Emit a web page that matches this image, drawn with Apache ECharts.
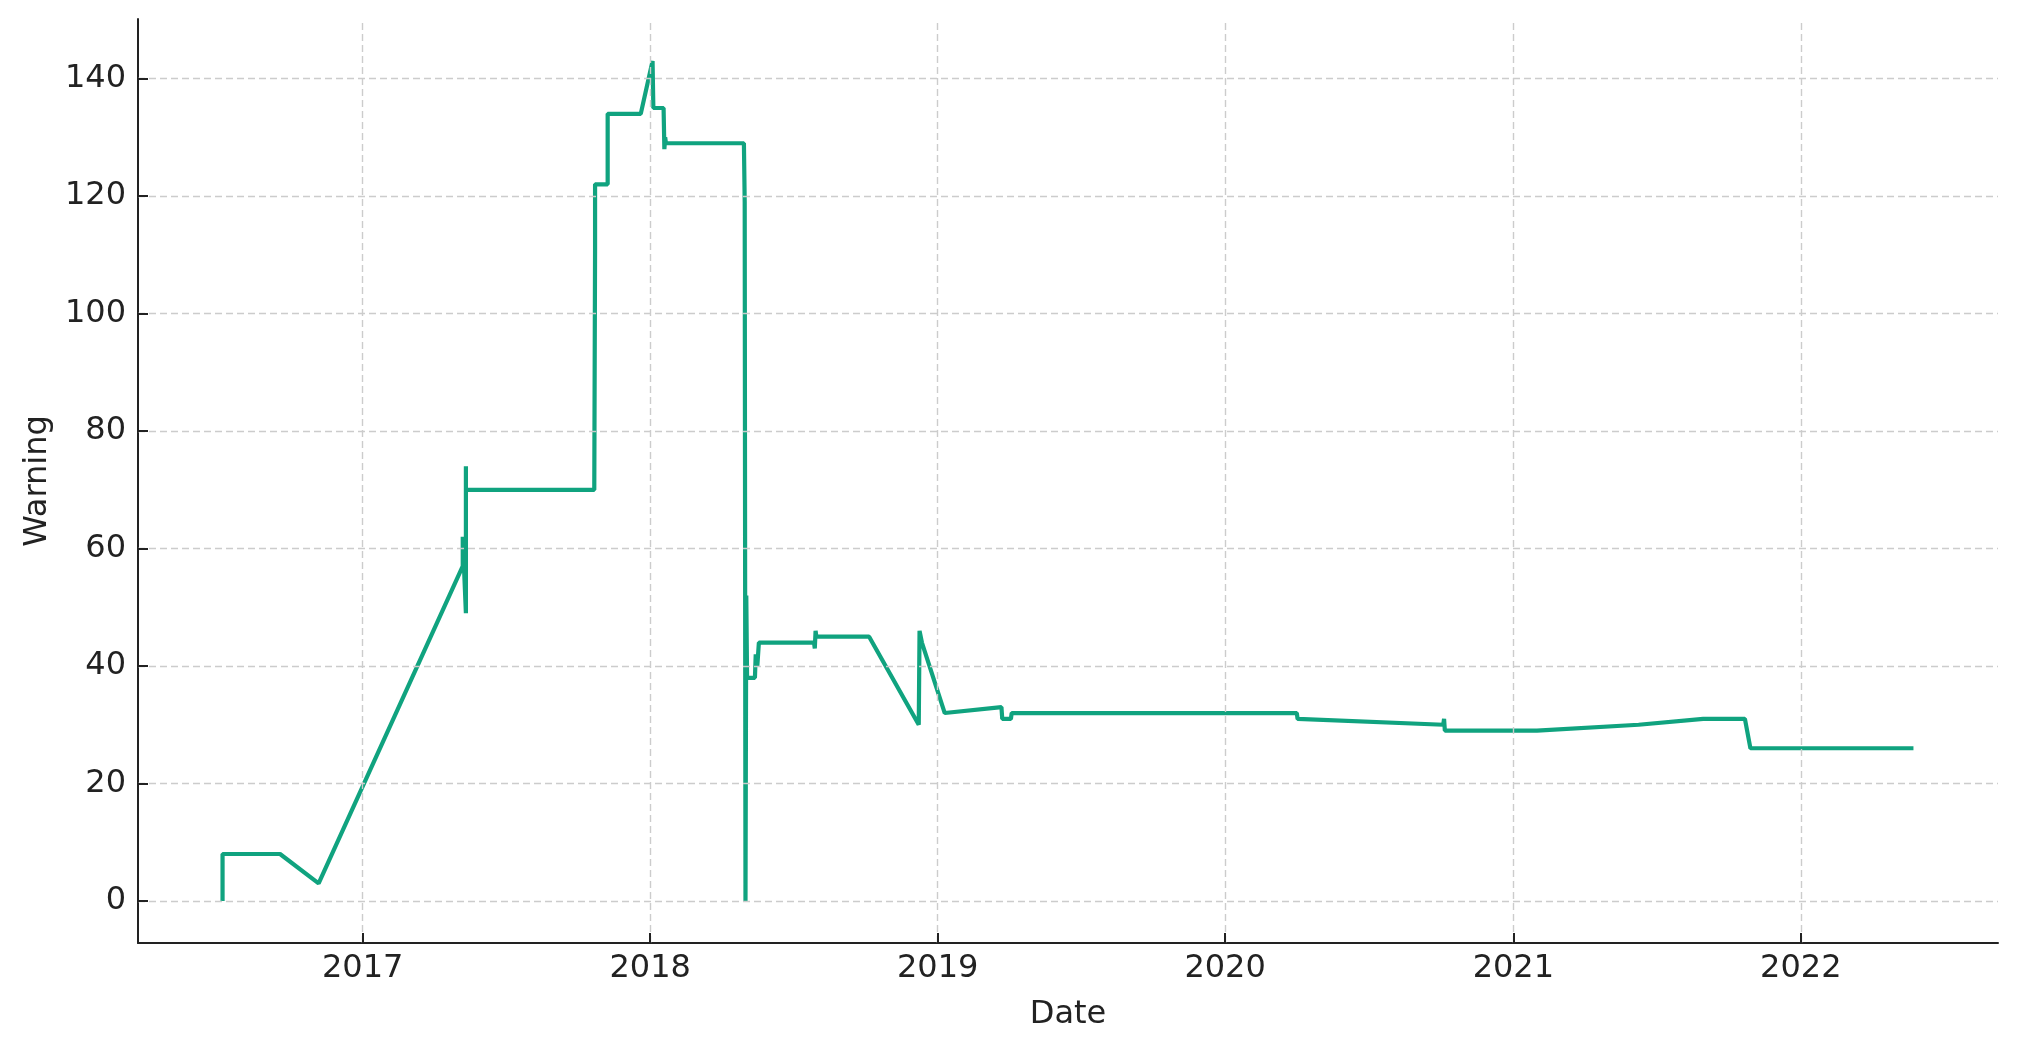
<!DOCTYPE html>
<html>
<head>
<meta charset="utf-8">
<script src="https://cdn.jsdelivr.net/npm/echarts@6/dist/echarts.min.js"></script>
<style>
  html, body { margin: 0; padding: 0; background: #ffffff; }
  #chart { width: 2017px; height: 1050px; }
</style>
</head>
<body>
<div id="chart"></div>
<script>
// ---- data ----
const dates = [
  '2016-07-07', '2016-07-07', '2016-09-18', '2016-11-06',
  '2017-05-08', '2017-05-08', '2017-05-12', '2017-05-12', '2017-05-12',
  '2017-10-22', '2017-10-23', '2017-10-23', '2017-11-08', '2017-11-08',
  '2017-12-20', '2018-01-04', '2018-01-05', '2018-01-18', '2018-01-19',
  '2018-01-20', '2018-01-21', '2018-04-30', '2018-05-01', '2018-05-02',
  '2018-05-03', '2018-05-04', '2018-05-14', '2018-05-15', '2018-05-17',
  '2018-05-19', '2018-07-28', '2018-07-29', '2018-07-30', '2018-07-31',
  '2018-10-06', '2018-12-08', '2018-12-09', '2018-12-12', '2019-01-10',
  '2019-03-23', '2019-03-24', '2019-04-04', '2019-04-05', '2020-04-01',
  '2020-04-02', '2020-10-04', '2020-10-05', '2020-10-06', '2021-01-31',
  '2021-06-09', '2021-08-30', '2021-10-22', '2021-10-29', '2022-05-24'
];
const warnings = [
  0, 8, 8, 3,
  57, 62, 49, 74, 70,
  70, 111, 122, 122, 134,
  134, 143, 135, 135, 128,
  130, 129, 129, 119, 0,
  52, 38, 38, 42, 40,
  44, 44, 43, 46, 45,
  45, 30, 46, 44, 32,
  33, 31, 31, 32, 32,
  31, 30, 31, 29, 29,
  30, 31, 31, 26, 26
];
const yTicks = [0, 20, 40, 60, 80, 100, 120, 140];
const yearTicks = ['2017-01-01', '2018-01-01', '2019-01-01', '2020-01-01', '2021-01-01', '2022-01-01'];

// ---- helpers ----
function toUTC(s) {
  const p = s.split('-').map(Number);
  return Date.UTC(p[0], p[1] - 1, p[2]);
}
const times = dates.map(toUTC);
const seriesData = times.map((t, i) => [t, warnings[i]]);
const yearTimes = yearTicks.map(toUTC);

const tMin = Math.min(...times), tMax = Math.max(...times);
const tPad = (tMax - tMin) * 0.05;
const vMin = Math.min(...warnings), vMax = Math.max(...warnings);
const vPad = (vMax - vMin) * 0.05;
const xLo = tMin - tPad, xHi = tMax + tPad;
const yLo = vMin - vPad, yHi = vMax + vPad;

// layout
const W = 2017, H = 1050;
const G = { left: 138, right: 19, top: 19, bottom: 107 };
const plotW = W - G.left - G.right, plotH = H - G.top - G.bottom;
const TICK_PX = 10;
const tickDX = (xHi - xLo) * TICK_PX / plotW;   // tick length in time units
const tickDY = (yHi - yLo) * TICK_PX / plotH;   // tick length in value units

const FONT = 'DejaVu Sans';
const TXT = '#222222';
const GRID = '#cccccc';

const chart = echarts.init(document.getElementById('chart'), null, { renderer: 'canvas' });
chart.setOption({
  animation: false,
  useUTC: true,
  backgroundColor: '#ffffff',
  grid: { left: G.left, right: G.right, top: G.top, bottom: G.bottom, containLabel: false },
  xAxis: {
    type: 'time',
    min: xLo,
    max: xHi,
    minInterval: 365 * 24 * 3600 * 1000,
    maxInterval: 366 * 24 * 3600 * 1000,
    name: 'Date',
    nameLocation: 'middle',
    nameGap: 56,
    nameTextStyle: { fontFamily: FONT, fontSize: 32, color: TXT },
    axisLine: { show: true, onZero: false, lineStyle: { color: TXT, width: 2 } },
    axisTick: { show: false },
    axisLabel: {
      show: true,
      margin: 10,
      fontFamily: FONT,
      fontSize: 32,
      color: TXT,
      hideOverlap: false,
      formatter: function (v) {
        const d = new Date(v);
        return (d.getUTCMonth() === 0 && d.getUTCDate() === 1) ? String(d.getUTCFullYear()) : '';
      }
    },
    splitLine: { show: false }
  },
  yAxis: {
    type: 'value',
    min: yLo,
    max: yHi,
    splitNumber: 8,
    name: 'Warning',
    nameLocation: 'middle',
    nameGap: 84,
    nameTextStyle: { fontFamily: FONT, fontSize: 32, color: TXT },
    axisLine: { show: true, lineStyle: { color: TXT, width: 2 } },
    axisTick: { show: false },
    axisLabel: {
      show: true,
      margin: 12,
      fontFamily: FONT,
      fontSize: 32,
      color: TXT,
      formatter: function (v) {
        return yTicks.indexOf(Math.round(v * 1000) / 1000) >= 0 ? String(v) : '';
      }
    },
    splitLine: { show: false }
  },
  series: [
    {
      name: 'grid',
      type: 'line',
      data: [],
      z: 1,
      silent: true,
      markLine: {
        silent: true,
        symbol: ['none', 'none'],
        label: { show: false },
        animation: false,
        lineStyle: { color: GRID, width: 1.4, type: [7, 4] },
        data: yTicks.map(v => ({ yAxis: v })).concat(yearTimes.map(t => ({ xAxis: t })))
      }
    },
    {
      name: 'ticks',
      type: 'line',
      data: [],
      z: 5,
      silent: true,
      markLine: {
        silent: true,
        symbol: ['none', 'none'],
        label: { show: false },
        animation: false,
        lineStyle: { color: TXT, width: 2, type: 'solid' },
        data: yTicks.map(v => [{ coord: [xLo, v] }, { coord: [xLo + tickDX, v] }])
          .concat(yearTimes.map(t => [{ coord: [t, yLo] }, { coord: [t, yLo + tickDY] }]))
      }
    },
    {
      name: 'Warning',
      type: 'line',
      data: seriesData,
      z: 3,
      showSymbol: false,
      symbol: 'none',
      lineStyle: { color: '#10a37f', width: 4.2 },
      itemStyle: { color: '#10a37f' }
    }
  ]
});
</script>
</body>
</html>
